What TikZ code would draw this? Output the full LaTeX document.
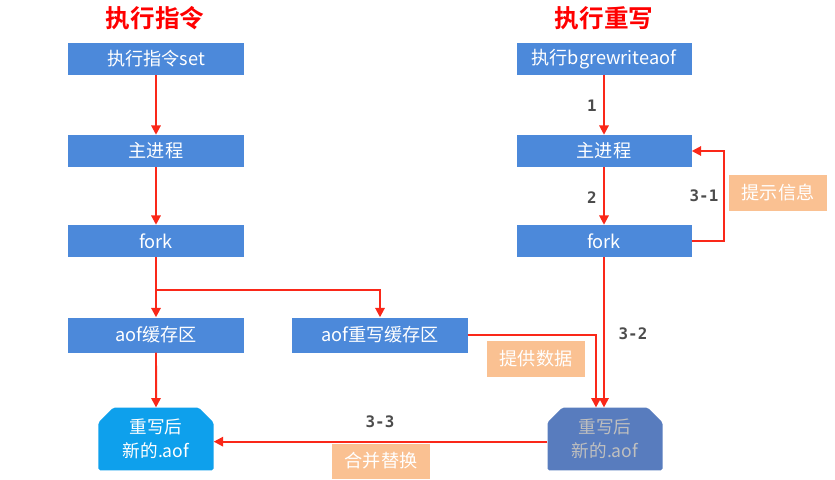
\documentclass[tikz,border=0pt]{standalone}
\usepackage{fontspec}
\usepackage{tikz}
\usetikzlibrary{arrows.meta,shapes.misc}
\newfontfamily\cjk{Noto Sans CJK SC}
\newfontfamily\cjkbold{Noto Sans CJK SC Bold}
\newfontfamily\lblfont{DejaVu Sans Mono}
\definecolor{boxblue}{RGB}{76,137,218}
\definecolor{newblue}{RGB}{14,160,236}
\definecolor{oldblue}{RGB}{88,124,190}
\definecolor{tipbg}{RGB}{250,193,146}
\definecolor{flowred}{RGB}{250,40,25}

\begin{document}
\begin{tikzpicture}[x=0.03cm, y=-0.03cm,
  proc/.style={fill=boxblue, text=white, font=\cjk\fontsize{15.5}{17}\selectfont,
    minimum width=5.25cm, minimum height=0.96cm, inner sep=0pt},
  result/.style={chamfered rectangle, chamfered rectangle corners={north west,north east},
    chamfered rectangle xsep=0.22cm, chamfered rectangle ysep=0.22cm, rounded corners=1.5pt,
    fill=newblue, text=white, align=center,
    font=\cjk\fontsize{15}{20}\selectfont, minimum width=3.45cm, minimum height=1.88cm, inner sep=0pt},
  tip/.style={fill=tipbg, text=white, font=\cjk\fontsize{15.5}{17}\selectfont,
    minimum width=2.95cm, minimum height=1.05cm, inner sep=0pt},
  title/.style={font=\cjkbold\fontsize{21}{24}\selectfont, text=red},
  lbl/.style={font=\lblfont\bfseries\fontsize{13.5}{15}\selectfont, text=black!70},
  flow/.style={draw=flowred, line width=1.7pt, -{Triangle[length=8pt,width=8pt]}}
]
\useasboundingbox (0,0) rectangle (835,480);

% left column: set command
\node[title] (titleL) at (155,18) {执行指令};
\node[proc] (set) at (156,59) {执行指令set};
\node[proc] (mainL) at (156,151) {主进程};
\node[proc] (forkL) at (156,241) {fork};
\node[proc, minimum height=1.05cm] (aofbuf) at (156,335) {aof缓存区};
\node[proc, minimum height=1.05cm] (rwbuf) at (380,335) {aof重写缓存区};
\node[result] (newL) at (156,439) {重写后\\新的.aof};

% right column: bgrewriteaof
\node[title] (titleR) at (604,18) {执行重写};
\node[proc] (bgrw) at (604,59) {执行bgrewriteaof};
\node[proc] (mainR) at (604,151) {主进程};
\node[proc] (forkR) at (604,241) {fork};
\node[result, fill=oldblue, text=black!25] (newR) at (605,439) {重写后\\新的.aof};

% notes
\node[tip] (hint) at (778,193) {提示信息};
\node[tip, minimum height=1.1cm] (supply) at (536,359) {提供数据};
\node[tip] (merge) at (381,461) {合并替换};

% arrows
\coordinate (split) at (156,290);
\draw[flow] (set) -- (mainL);
\draw[flow] (mainL) -- (forkL);
\draw[flow] (forkL) -- (aofbuf);
\draw[flow] (split) -| (rwbuf.north);
\draw[flow] (aofbuf) -- (newL);
\draw[flow] (bgrw) -- (mainR);
\draw[flow] (mainR) -- (forkR);
\draw[flow] (forkR.east) -- ++(32,0) |- (mainR.east);
\draw[flow] (forkR.south) -- (forkR.south |- newR.north);
\draw[flow] (rwbuf.east) -| ([xshift=-0.27cm]newR.north);
\draw[flow] ([yshift=-0.08cm]newR.west) -- ([yshift=-0.08cm]newL.east);

% step labels
\node[lbl] (s1) at (592,106) {1};
\node[lbl] (s2) at (592,198) {2};
\node[lbl] (s31) at (704,196) {3-1};
\node[lbl] (s32) at (633,334) {3-2};
\node[lbl] (s33) at (380,422) {3-3};
\end{tikzpicture}
\end{document}
